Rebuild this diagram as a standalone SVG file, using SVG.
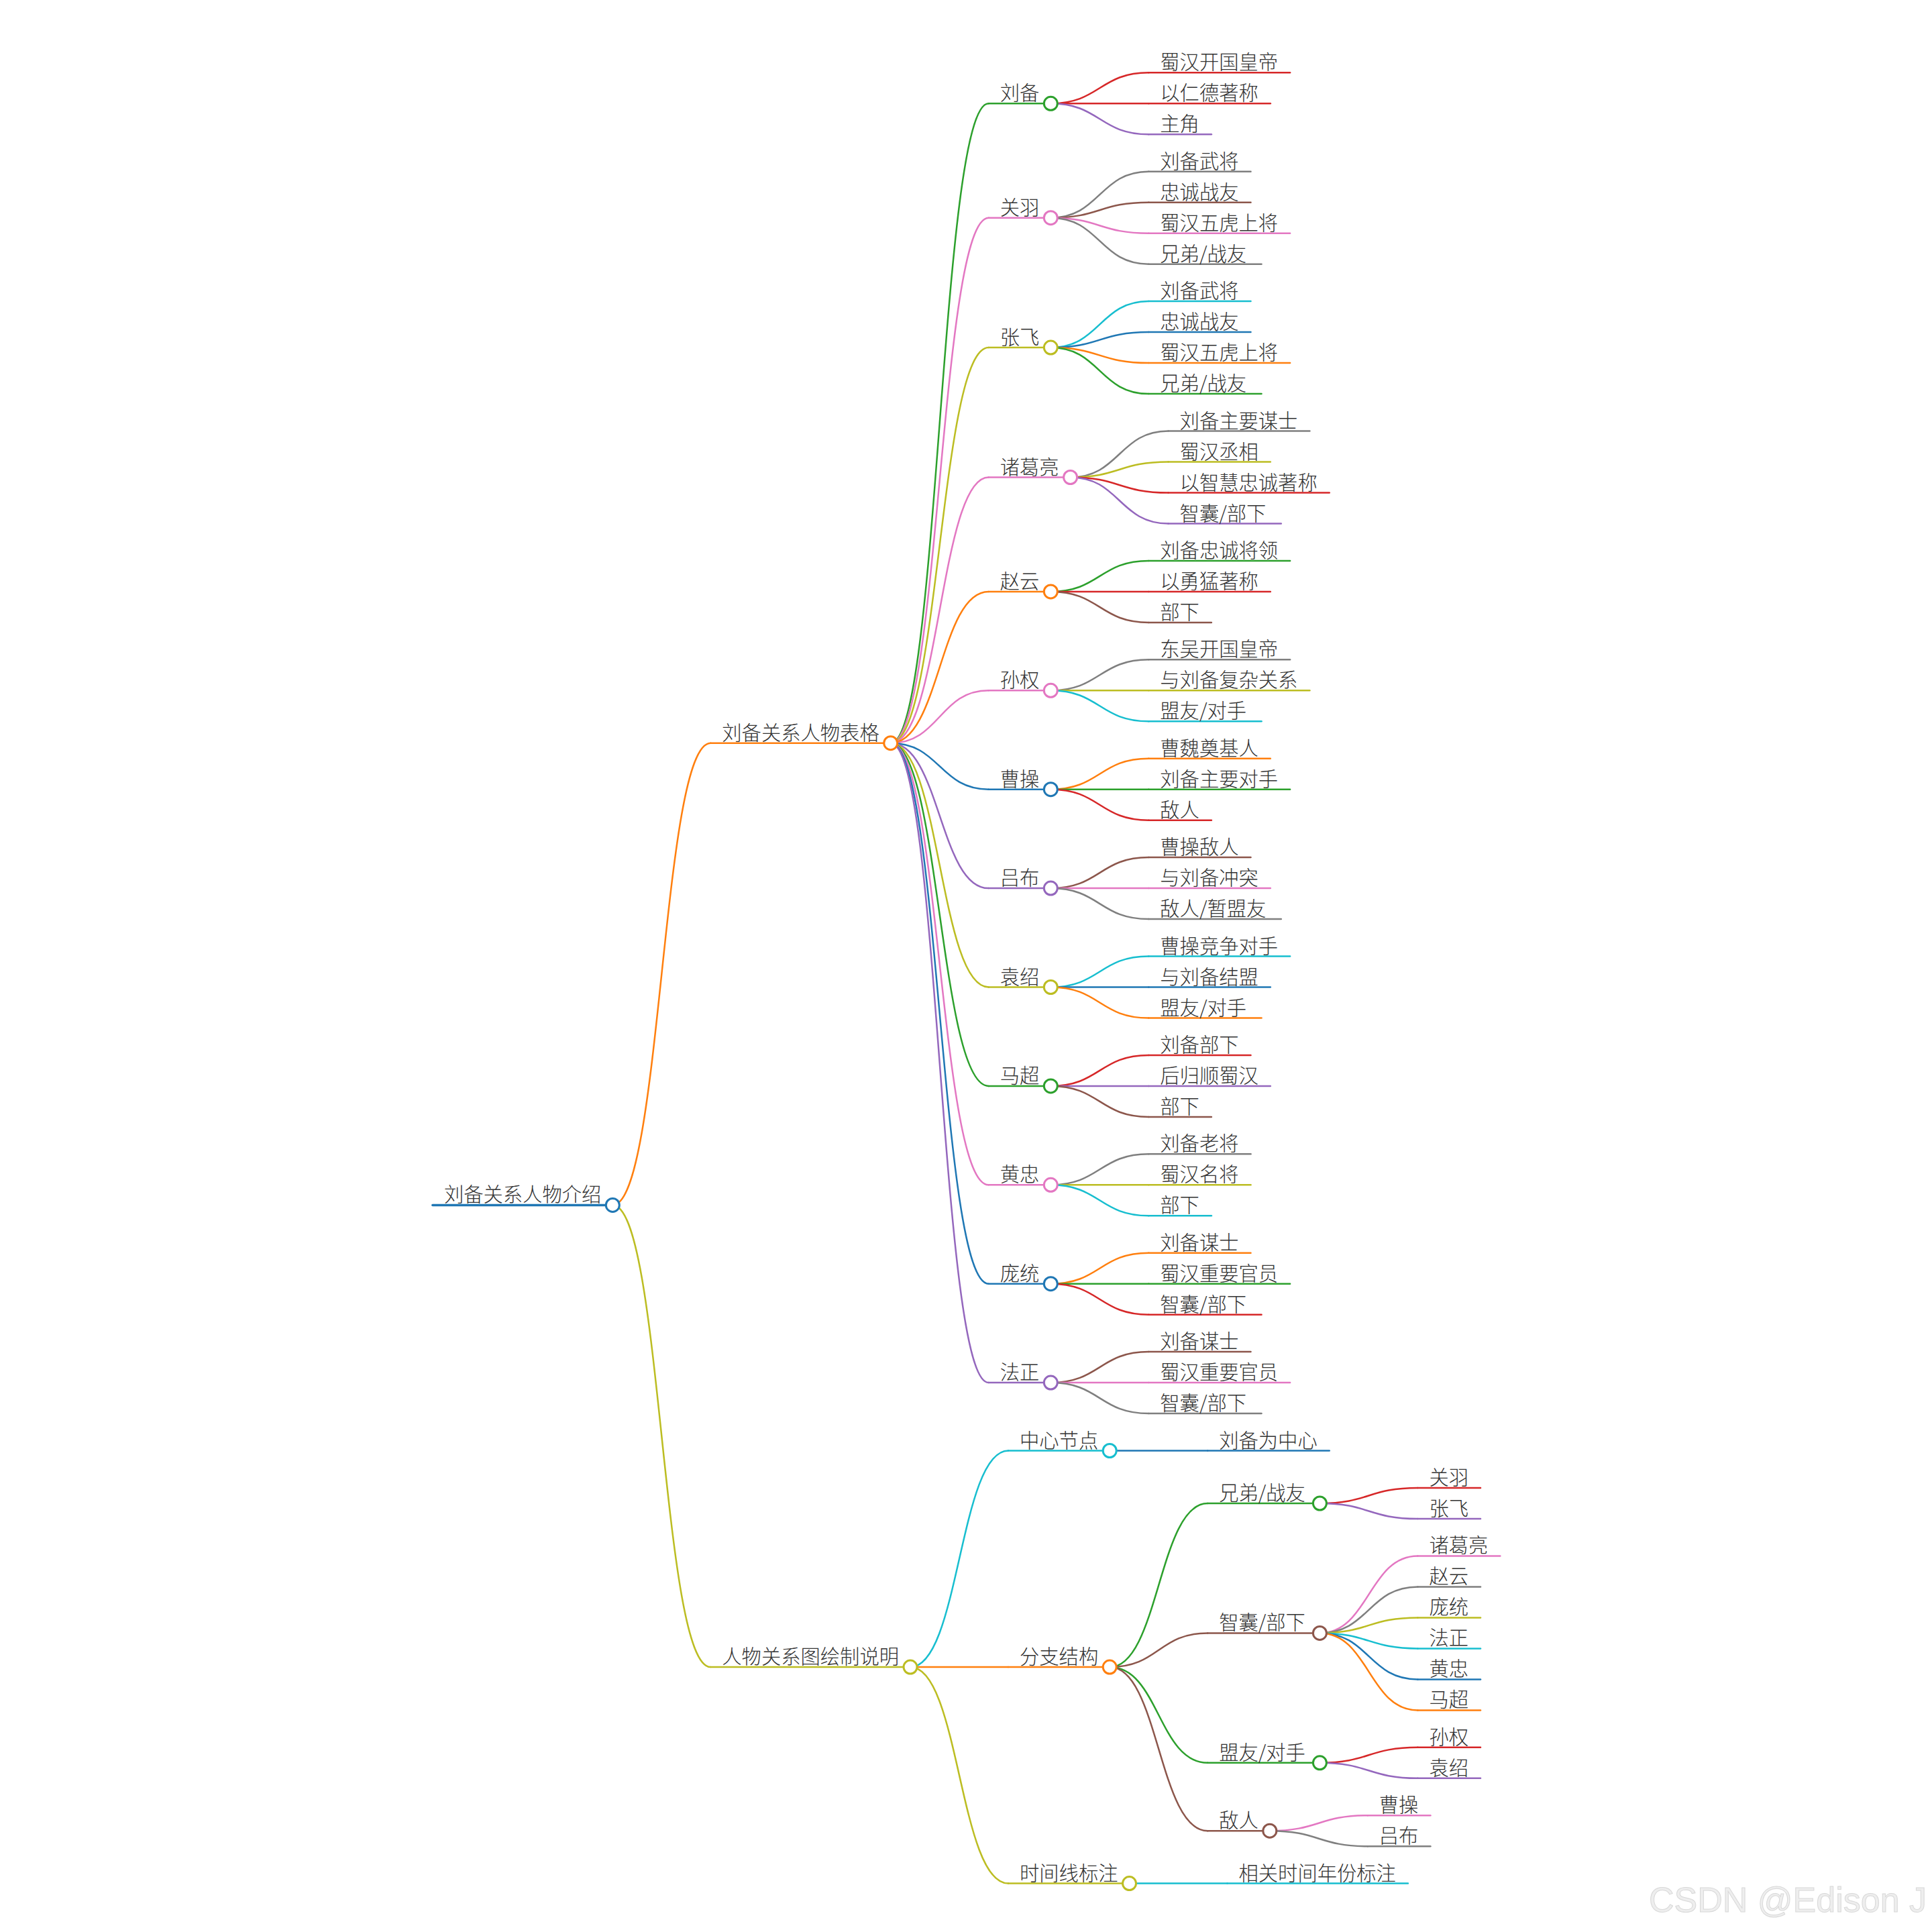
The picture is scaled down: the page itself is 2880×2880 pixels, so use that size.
<svg xmlns="http://www.w3.org/2000/svg" width="2880" height="2880" viewBox="0 0 2880 2880">
<style>
text{font-family:"Noto Sans CJK SC","Noto Sans CJK JP",sans-serif;font-size:29.3px;fill:#333;font-weight:300}
path{fill:none;stroke-width:2.5;stroke-linecap:round}
.u{stroke-width:2.5}
.ru{stroke-width:3.5}
circle{fill:#fff;stroke-width:3}
.bl{stroke:#1f77b4}.or{stroke:#ff7f0e}.gr{stroke:#2ca02c}.rd{stroke:#d62728}.pu{stroke:#9467bd}
.br{stroke:#8c564b}.pk{stroke:#e377c2}.gy{stroke:#7f7f7f}.ol{stroke:#bcbd22}.cy{stroke:#17becf}
.wm{font-family:"Liberation Sans",Arial,sans-serif;font-size:52px;fill:#eeeeee;stroke:#d8d8d8;stroke-width:1;font-weight:400}
</style>
<rect width="2880" height="2880" fill="#fff"/>
<g id="connectors">
<path class="or" d="M913.3,1796.4 C986.3,1796.4 986.3,1107.7 1059.3,1107.7"/>
<path class="ol" d="M913.3,1796.4 C986.3,1796.4 986.3,2485.1 1059.3,2485.1"/>
<path class="gr" d="M1327.7,1107.7 C1400.7,1107.7 1400.7,154.3 1473.7,154.3"/>
<path class="pk" d="M1327.7,1107.7 C1400.7,1107.7 1400.7,324.7 1473.7,324.7"/>
<path class="ol" d="M1327.7,1107.7 C1400.7,1107.7 1400.7,518.1 1473.7,518.1"/>
<path class="pk" d="M1327.7,1107.7 C1400.7,1107.7 1400.7,711.5 1473.7,711.5"/>
<path class="or" d="M1327.7,1107.7 C1400.7,1107.7 1400.7,881.9 1473.7,881.9"/>
<path class="pk" d="M1327.7,1107.7 C1400.7,1107.7 1400.7,1029.3 1473.7,1029.3"/>
<path class="bl" d="M1327.7,1107.7 C1400.7,1107.7 1400.7,1176.7 1473.7,1176.7"/>
<path class="pu" d="M1327.7,1107.7 C1400.7,1107.7 1400.7,1324.1 1473.7,1324.1"/>
<path class="ol" d="M1327.7,1107.7 C1400.7,1107.7 1400.7,1471.5 1473.7,1471.5"/>
<path class="gr" d="M1327.7,1107.7 C1400.7,1107.7 1400.7,1618.9 1473.7,1618.9"/>
<path class="pk" d="M1327.7,1107.7 C1400.7,1107.7 1400.7,1766.3 1473.7,1766.3"/>
<path class="bl" d="M1327.7,1107.7 C1400.7,1107.7 1400.7,1913.7 1473.7,1913.7"/>
<path class="pu" d="M1327.7,1107.7 C1400.7,1107.7 1400.7,2061.1 1473.7,2061.1"/>
<path class="rd" d="M1566.3,154.3 C1639.3,154.3 1639.3,108.3 1712.3,108.3"/>
<path class="rd" d="M1566.3,154.3 H1712.3"/>
<path class="pu" d="M1566.3,154.3 C1639.3,154.3 1639.3,200.3 1712.3,200.3"/>
<path class="gy" d="M1566.3,324.7 C1639.3,324.7 1639.3,255.7 1712.3,255.7"/>
<path class="br" d="M1566.3,324.7 C1639.3,324.7 1639.3,301.7 1712.3,301.7"/>
<path class="pk" d="M1566.3,324.7 C1639.3,324.7 1639.3,347.7 1712.3,347.7"/>
<path class="gy" d="M1566.3,324.7 C1639.3,324.7 1639.3,393.7 1712.3,393.7"/>
<path class="cy" d="M1566.3,518.1 C1639.3,518.1 1639.3,449.1 1712.3,449.1"/>
<path class="bl" d="M1566.3,518.1 C1639.3,518.1 1639.3,495.1 1712.3,495.1"/>
<path class="or" d="M1566.3,518.1 C1639.3,518.1 1639.3,541.1 1712.3,541.1"/>
<path class="gr" d="M1566.3,518.1 C1639.3,518.1 1639.3,587.1 1712.3,587.1"/>
<path class="gy" d="M1595.6,711.5 C1668.6,711.5 1668.6,642.5 1741.6,642.5"/>
<path class="ol" d="M1595.6,711.5 C1668.6,711.5 1668.6,688.5 1741.6,688.5"/>
<path class="rd" d="M1595.6,711.5 C1668.6,711.5 1668.6,734.5 1741.6,734.5"/>
<path class="pu" d="M1595.6,711.5 C1668.6,711.5 1668.6,780.5 1741.6,780.5"/>
<path class="gr" d="M1566.3,881.9 C1639.3,881.9 1639.3,835.9 1712.3,835.9"/>
<path class="rd" d="M1566.3,881.9 H1712.3"/>
<path class="br" d="M1566.3,881.9 C1639.3,881.9 1639.3,927.9 1712.3,927.9"/>
<path class="gy" d="M1566.3,1029.3 C1639.3,1029.3 1639.3,983.3 1712.3,983.3"/>
<path class="ol" d="M1566.3,1029.3 H1712.3"/>
<path class="cy" d="M1566.3,1029.3 C1639.3,1029.3 1639.3,1075.3 1712.3,1075.3"/>
<path class="or" d="M1566.3,1176.7 C1639.3,1176.7 1639.3,1130.7 1712.3,1130.7"/>
<path class="gr" d="M1566.3,1176.7 H1712.3"/>
<path class="rd" d="M1566.3,1176.7 C1639.3,1176.7 1639.3,1222.7 1712.3,1222.7"/>
<path class="br" d="M1566.3,1324.1 C1639.3,1324.1 1639.3,1278.1 1712.3,1278.1"/>
<path class="pk" d="M1566.3,1324.1 H1712.3"/>
<path class="gy" d="M1566.3,1324.1 C1639.3,1324.1 1639.3,1370.1 1712.3,1370.1"/>
<path class="cy" d="M1566.3,1471.5 C1639.3,1471.5 1639.3,1425.5 1712.3,1425.5"/>
<path class="bl" d="M1566.3,1471.5 H1712.3"/>
<path class="or" d="M1566.3,1471.5 C1639.3,1471.5 1639.3,1517.5 1712.3,1517.5"/>
<path class="rd" d="M1566.3,1618.9 C1639.3,1618.9 1639.3,1572.9 1712.3,1572.9"/>
<path class="pu" d="M1566.3,1618.9 H1712.3"/>
<path class="br" d="M1566.3,1618.9 C1639.3,1618.9 1639.3,1664.9 1712.3,1664.9"/>
<path class="gy" d="M1566.3,1766.3 C1639.3,1766.3 1639.3,1720.3 1712.3,1720.3"/>
<path class="ol" d="M1566.3,1766.3 H1712.3"/>
<path class="cy" d="M1566.3,1766.3 C1639.3,1766.3 1639.3,1812.3 1712.3,1812.3"/>
<path class="or" d="M1566.3,1913.7 C1639.3,1913.7 1639.3,1867.7 1712.3,1867.7"/>
<path class="gr" d="M1566.3,1913.7 H1712.3"/>
<path class="rd" d="M1566.3,1913.7 C1639.3,1913.7 1639.3,1959.7 1712.3,1959.7"/>
<path class="br" d="M1566.3,2061.1 C1639.3,2061.1 1639.3,2015.1 1712.3,2015.1"/>
<path class="pk" d="M1566.3,2061.1 H1712.3"/>
<path class="gy" d="M1566.3,2061.1 C1639.3,2061.1 1639.3,2107.1 1712.3,2107.1"/>
<path class="cy" d="M1357,2485.1 C1430,2485.1 1430,2162.5 1503,2162.5"/>
<path class="or" d="M1357,2485.1 H1503"/>
<path class="ol" d="M1357,2485.1 C1430,2485.1 1430,2807.6 1503,2807.6"/>
<path class="bl" d="M1654.2,2162.5 H1800.2"/>
<path class="gr" d="M1654.2,2485.1 C1727.2,2485.1 1727.2,2241 1800.2,2241"/>
<path class="br" d="M1654.2,2485.1 C1727.2,2485.1 1727.2,2434.4 1800.2,2434.4"/>
<path class="gr" d="M1654.2,2485.1 C1727.2,2485.1 1727.2,2627.8 1800.2,2627.8"/>
<path class="br" d="M1654.2,2485.1 C1727.2,2485.1 1727.2,2729.2 1800.2,2729.2"/>
<path class="rd" d="M1967.4,2241 C2040.4,2241 2040.4,2218 2113.4,2218"/>
<path class="pu" d="M1967.4,2241 C2040.4,2241 2040.4,2264 2113.4,2264"/>
<path class="pk" d="M1967.4,2434.4 C2040.4,2434.4 2040.4,2319.4 2113.4,2319.4"/>
<path class="gy" d="M1967.4,2434.4 C2040.4,2434.4 2040.4,2365.4 2113.4,2365.4"/>
<path class="ol" d="M1967.4,2434.4 C2040.4,2434.4 2040.4,2411.4 2113.4,2411.4"/>
<path class="cy" d="M1967.4,2434.4 C2040.4,2434.4 2040.4,2457.4 2113.4,2457.4"/>
<path class="bl" d="M1967.4,2434.4 C2040.4,2434.4 2040.4,2503.4 2113.4,2503.4"/>
<path class="or" d="M1967.4,2434.4 C2040.4,2434.4 2040.4,2549.4 2113.4,2549.4"/>
<path class="rd" d="M1967.4,2627.8 C2040.4,2627.8 2040.4,2604.8 2113.4,2604.8"/>
<path class="pu" d="M1967.4,2627.8 C2040.4,2627.8 2040.4,2650.8 2113.4,2650.8"/>
<path class="pk" d="M1892.8,2729.2 C1965.8,2729.2 1965.8,2706.2 2038.8,2706.2"/>
<path class="gy" d="M1892.8,2729.2 C1965.8,2729.2 1965.8,2752.2 2038.8,2752.2"/>
<path class="cy" d="M1683.5,2807.6 H1829.5"/>
</g>

<!-- leaves of 刘备关系人物表格 -->
<g id="leaf-liubei-1"><path class="u rd" d="M1712.3,108.3 H1923.1"/><text x="1729.3" y="103.3">蜀汉开国皇帝</text></g>
<g id="leaf-liubei-2"><path class="u rd" d="M1712.3,154.3 H1893.8"/><text x="1729.3" y="149.3">以仁德著称</text></g>
<g id="leaf-liubei-3"><path class="u pu" d="M1712.3,200.3 H1805.9"/><text x="1729.3" y="195.3">主角</text></g>
<g id="leaf-guanyu-1"><path class="u gy" d="M1712.3,255.7 H1864.5"/><text x="1729.3" y="250.7">刘备武将</text></g>
<g id="leaf-guanyu-2"><path class="u br" d="M1712.3,301.7 H1864.5"/><text x="1729.3" y="296.7">忠诚战友</text></g>
<g id="leaf-guanyu-3"><path class="u pk" d="M1712.3,347.7 H1923.1"/><text x="1729.3" y="342.7">蜀汉五虎上将</text></g>
<g id="leaf-guanyu-4"><path class="u gy" d="M1712.3,393.7 H1880.5"/><text x="1729.3" y="388.7">兄弟/战友</text></g>
<g id="leaf-zhangfei-1"><path class="u cy" d="M1712.3,449.1 H1864.5"/><text x="1729.3" y="444.1">刘备武将</text></g>
<g id="leaf-zhangfei-2"><path class="u bl" d="M1712.3,495.1 H1864.5"/><text x="1729.3" y="490.1">忠诚战友</text></g>
<g id="leaf-zhangfei-3"><path class="u or" d="M1712.3,541.1 H1923.1"/><text x="1729.3" y="536.1">蜀汉五虎上将</text></g>
<g id="leaf-zhangfei-4"><path class="u gr" d="M1712.3,587.1 H1880.5"/><text x="1729.3" y="582.1">兄弟/战友</text></g>
<g id="leaf-zhuge-1"><path class="u gy" d="M1741.6,642.5 H1952.4"/><text x="1758.6" y="637.5">刘备主要谋士</text></g>
<g id="leaf-zhuge-2"><path class="u ol" d="M1741.6,688.5 H1893.8"/><text x="1758.6" y="683.5">蜀汉丞相</text></g>
<g id="leaf-zhuge-3"><path class="u rd" d="M1741.6,734.5 H1981.7"/><text x="1758.6" y="729.5">以智慧忠诚著称</text></g>
<g id="leaf-zhuge-4"><path class="u pu" d="M1741.6,780.5 H1909.8"/><text x="1758.6" y="775.5">智囊/部下</text></g>
<g id="leaf-zhaoyun-1"><path class="u gr" d="M1712.3,835.9 H1923.1"/><text x="1729.3" y="830.9">刘备忠诚将领</text></g>
<g id="leaf-zhaoyun-2"><path class="u rd" d="M1712.3,881.9 H1893.8"/><text x="1729.3" y="876.9">以勇猛著称</text></g>
<g id="leaf-zhaoyun-3"><path class="u br" d="M1712.3,927.9 H1805.9"/><text x="1729.3" y="922.9">部下</text></g>
<g id="leaf-sunquan-1"><path class="u gy" d="M1712.3,983.3 H1923.1"/><text x="1729.3" y="978.3">东吴开国皇帝</text></g>
<g id="leaf-sunquan-2"><path class="u ol" d="M1712.3,1029.3 H1952.4"/><text x="1729.3" y="1024.3">与刘备复杂关系</text></g>
<g id="leaf-sunquan-3"><path class="u cy" d="M1712.3,1075.3 H1880.5"/><text x="1729.3" y="1070.3">盟友/对手</text></g>
<g id="leaf-caocao-1"><path class="u or" d="M1712.3,1130.7 H1893.8"/><text x="1729.3" y="1125.7">曹魏奠基人</text></g>
<g id="leaf-caocao-2"><path class="u gr" d="M1712.3,1176.7 H1923.1"/><text x="1729.3" y="1171.7">刘备主要对手</text></g>
<g id="leaf-caocao-3"><path class="u rd" d="M1712.3,1222.7 H1805.9"/><text x="1729.3" y="1217.7">敌人</text></g>
<g id="leaf-lvbu-1"><path class="u br" d="M1712.3,1278.1 H1864.5"/><text x="1729.3" y="1273.1">曹操敌人</text></g>
<g id="leaf-lvbu-2"><path class="u pk" d="M1712.3,1324.1 H1893.8"/><text x="1729.3" y="1319.1">与刘备冲突</text></g>
<g id="leaf-lvbu-3"><path class="u gy" d="M1712.3,1370.1 H1909.8"/><text x="1729.3" y="1365.1">敌人/暂盟友</text></g>
<g id="leaf-yuanshao-1"><path class="u cy" d="M1712.3,1425.5 H1923.1"/><text x="1729.3" y="1420.5">曹操竞争对手</text></g>
<g id="leaf-yuanshao-2"><path class="u bl" d="M1712.3,1471.5 H1893.8"/><text x="1729.3" y="1466.5">与刘备结盟</text></g>
<g id="leaf-yuanshao-3"><path class="u or" d="M1712.3,1517.5 H1880.5"/><text x="1729.3" y="1512.5">盟友/对手</text></g>
<g id="leaf-machao-1"><path class="u rd" d="M1712.3,1572.9 H1864.5"/><text x="1729.3" y="1567.9">刘备部下</text></g>
<g id="leaf-machao-2"><path class="u pu" d="M1712.3,1618.9 H1893.8"/><text x="1729.3" y="1613.9">后归顺蜀汉</text></g>
<g id="leaf-machao-3"><path class="u br" d="M1712.3,1664.9 H1805.9"/><text x="1729.3" y="1659.9">部下</text></g>
<g id="leaf-huangzhong-1"><path class="u gy" d="M1712.3,1720.3 H1864.5"/><text x="1729.3" y="1715.3">刘备老将</text></g>
<g id="leaf-huangzhong-2"><path class="u ol" d="M1712.3,1766.3 H1864.5"/><text x="1729.3" y="1761.3">蜀汉名将</text></g>
<g id="leaf-huangzhong-3"><path class="u cy" d="M1712.3,1812.3 H1805.9"/><text x="1729.3" y="1807.3">部下</text></g>
<g id="leaf-pangtong-1"><path class="u or" d="M1712.3,1867.7 H1864.5"/><text x="1729.3" y="1862.7">刘备谋士</text></g>
<g id="leaf-pangtong-2"><path class="u gr" d="M1712.3,1913.7 H1923.1"/><text x="1729.3" y="1908.7">蜀汉重要官员</text></g>
<g id="leaf-pangtong-3"><path class="u rd" d="M1712.3,1959.7 H1880.5"/><text x="1729.3" y="1954.7">智囊/部下</text></g>
<g id="leaf-fazheng-1"><path class="u br" d="M1712.3,2015.1 H1864.5"/><text x="1729.3" y="2010.1">刘备谋士</text></g>
<g id="leaf-fazheng-2"><path class="u pk" d="M1712.3,2061.1 H1923.1"/><text x="1729.3" y="2056.1">蜀汉重要官员</text></g>
<g id="leaf-fazheng-3"><path class="u gy" d="M1712.3,2107.1 H1880.5"/><text x="1729.3" y="2102.1">智囊/部下</text></g>

<!-- leaves of 人物关系图绘制说明 -->
<g id="leaf-center"><path class="u bl" d="M1800.2,2162.5 H1981.7"/><text x="1817.2" y="2157.5">刘备为中心</text></g>
<g id="leaf-xd-1"><path class="u rd" d="M2113.4,2218 H2207"/><text x="2130.4" y="2213">关羽</text></g>
<g id="leaf-xd-2"><path class="u pu" d="M2113.4,2264 H2207"/><text x="2130.4" y="2259">张飞</text></g>
<g id="leaf-zn-1"><path class="u pk" d="M2113.4,2319.4 H2236.3"/><text x="2130.4" y="2314.4">诸葛亮</text></g>
<g id="leaf-zn-2"><path class="u gy" d="M2113.4,2365.4 H2207"/><text x="2130.4" y="2360.4">赵云</text></g>
<g id="leaf-zn-3"><path class="u ol" d="M2113.4,2411.4 H2207"/><text x="2130.4" y="2406.4">庞统</text></g>
<g id="leaf-zn-4"><path class="u cy" d="M2113.4,2457.4 H2207"/><text x="2130.4" y="2452.4">法正</text></g>
<g id="leaf-zn-5"><path class="u bl" d="M2113.4,2503.4 H2207"/><text x="2130.4" y="2498.4">黄忠</text></g>
<g id="leaf-zn-6"><path class="u or" d="M2113.4,2549.4 H2207"/><text x="2130.4" y="2544.4">马超</text></g>
<g id="leaf-my-1"><path class="u rd" d="M2113.4,2604.8 H2207"/><text x="2130.4" y="2599.8">孙权</text></g>
<g id="leaf-my-2"><path class="u pu" d="M2113.4,2650.8 H2207"/><text x="2130.4" y="2645.8">袁绍</text></g>
<g id="leaf-dr-1"><path class="u pk" d="M2038.8,2706.2 H2132.4"/><text x="2055.8" y="2701.2">曹操</text></g>
<g id="leaf-dr-2"><path class="u gy" d="M2038.8,2752.2 H2132.4"/><text x="2055.8" y="2747.2">吕布</text></g>
<g id="leaf-timeline"><path class="u cy" d="M1829.5,2807.6 H2098.9"/><text x="1846.5" y="2802.6">相关时间年份标注</text></g>

<!-- level-3 nodes of 分支结构 -->
<g id="n-xiongdi"><path class="u gr" d="M1800.2,2241 H1967.4"/><circle class="gr" cx="1967.4" cy="2241" r="10"/><text x="1817.2" y="2236">兄弟/战友</text></g>
<g id="n-zhinang"><path class="u br" d="M1800.2,2434.4 H1967.4"/><circle class="br" cx="1967.4" cy="2434.4" r="10"/><text x="1817.2" y="2429.4">智囊/部下</text></g>
<g id="n-mengyou"><path class="u gr" d="M1800.2,2627.8 H1967.4"/><circle class="gr" cx="1967.4" cy="2627.8" r="10"/><text x="1817.2" y="2622.8">盟友/对手</text></g>
<g id="n-diren"><path class="u br" d="M1800.2,2729.2 H1892.8"/><circle class="br" cx="1892.8" cy="2729.2" r="10"/><text x="1817.2" y="2724.2">敌人</text></g>

<!-- level-2 nodes -->
<g id="n-liubei"><path class="u gr" d="M1473.7,154.3 H1566.3"/><circle class="gr" cx="1566.3" cy="154.3" r="10"/><text x="1490.7" y="149.3">刘备</text></g>
<g id="n-guanyu"><path class="u pk" d="M1473.7,324.7 H1566.3"/><circle class="pk" cx="1566.3" cy="324.7" r="10"/><text x="1490.7" y="319.7">关羽</text></g>
<g id="n-zhangfei"><path class="u ol" d="M1473.7,518.1 H1566.3"/><circle class="ol" cx="1566.3" cy="518.1" r="10"/><text x="1490.7" y="513.1">张飞</text></g>
<g id="n-zhuge"><path class="u pk" d="M1473.7,711.5 H1595.6"/><circle class="pk" cx="1595.6" cy="711.5" r="10"/><text x="1490.7" y="706.5">诸葛亮</text></g>
<g id="n-zhaoyun"><path class="u or" d="M1473.7,881.9 H1566.3"/><circle class="or" cx="1566.3" cy="881.9" r="10"/><text x="1490.7" y="876.9">赵云</text></g>
<g id="n-sunquan"><path class="u pk" d="M1473.7,1029.3 H1566.3"/><circle class="pk" cx="1566.3" cy="1029.3" r="10"/><text x="1490.7" y="1024.3">孙权</text></g>
<g id="n-caocao"><path class="u bl" d="M1473.7,1176.7 H1566.3"/><circle class="bl" cx="1566.3" cy="1176.7" r="10"/><text x="1490.7" y="1171.7">曹操</text></g>
<g id="n-lvbu"><path class="u pu" d="M1473.7,1324.1 H1566.3"/><circle class="pu" cx="1566.3" cy="1324.1" r="10"/><text x="1490.7" y="1319.1">吕布</text></g>
<g id="n-yuanshao"><path class="u ol" d="M1473.7,1471.5 H1566.3"/><circle class="ol" cx="1566.3" cy="1471.5" r="10"/><text x="1490.7" y="1466.5">袁绍</text></g>
<g id="n-machao"><path class="u gr" d="M1473.7,1618.9 H1566.3"/><circle class="gr" cx="1566.3" cy="1618.9" r="10"/><text x="1490.7" y="1613.9">马超</text></g>
<g id="n-huangzhong"><path class="u pk" d="M1473.7,1766.3 H1566.3"/><circle class="pk" cx="1566.3" cy="1766.3" r="10"/><text x="1490.7" y="1761.3">黄忠</text></g>
<g id="n-pangtong"><path class="u bl" d="M1473.7,1913.7 H1566.3"/><circle class="bl" cx="1566.3" cy="1913.7" r="10"/><text x="1490.7" y="1908.7">庞统</text></g>
<g id="n-fazheng"><path class="u pu" d="M1473.7,2061.1 H1566.3"/><circle class="pu" cx="1566.3" cy="2061.1" r="10"/><text x="1490.7" y="2056.1">法正</text></g>
<g id="n-zhongxin"><path class="u cy" d="M1503,2162.5 H1654.2"/><circle class="cy" cx="1654.2" cy="2162.5" r="10"/><text x="1520" y="2157.5">中心节点</text></g>
<g id="n-fenzhi"><path class="u or" d="M1503,2485.1 H1654.2"/><circle class="or" cx="1654.2" cy="2485.1" r="10"/><text x="1520" y="2480.1">分支结构</text></g>
<g id="n-shijian"><path class="u ol" d="M1503,2807.6 H1683.5"/><circle class="ol" cx="1683.5" cy="2807.6" r="10"/><text x="1520" y="2802.6">时间线标注</text></g>

<!-- level-1 nodes -->
<g id="n-table"><path class="u or" d="M1059.3,1107.7 H1327.7"/><circle class="or" cx="1327.7" cy="1107.7" r="10"/><text x="1076.3" y="1102.7">刘备关系人物表格</text></g>
<g id="n-explain"><path class="u ol" d="M1059.3,2485.1 H1357"/><circle class="ol" cx="1357" cy="2485.1" r="10"/><text x="1076.3" y="2480.1">人物关系图绘制说明</text></g>

<!-- root -->
<g id="n-root"><path class="ru bl" d="M644.9,1796.4 H913.3"/><circle class="bl" cx="913.3" cy="1796.4" r="10"/><text x="661.9" y="1791.4">刘备关系人物介绍</text></g>

<text class="wm" x="2458" y="2850">CSDN @Edison J</text>
</svg>
